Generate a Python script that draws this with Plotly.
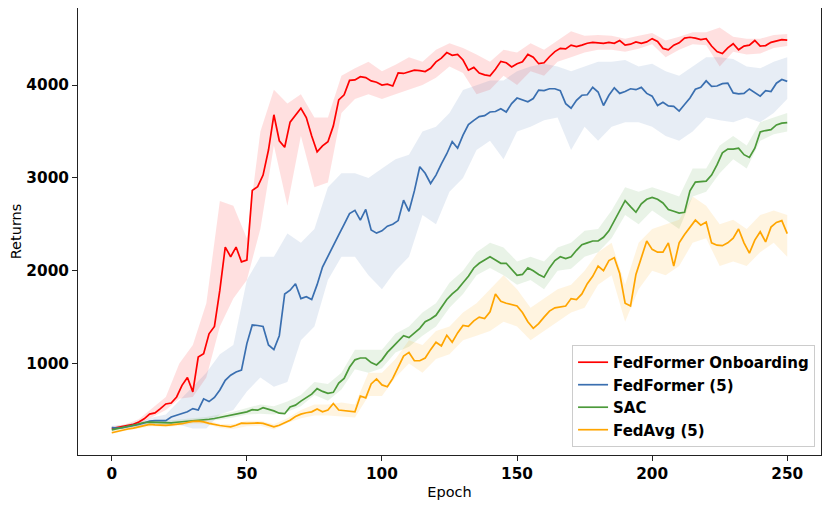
import plotly.graph_objects as go

EPOCHS = list(range(0, 251, 2))
BAND_EPOCHS = list(range(0, 251, 5))

SERIES_NAMES = ["FedFormer Onboarding", "FedFormer (5)", "SAC", "FedAvg (5)"]

onboarding_mean = [300, 310, 320, 335, 345, 370, 405, 455, 468, 515, 565, 575, 640, 765, 850, 695,
    1070, 1105, 1320, 1400, 1790, 2255, 2150, 2255, 2095, 2115, 2865, 2905, 3030, 3300, 3680,
    3400, 3330, 3600, 3680, 3750, 3650, 3450, 3280, 3345, 3390, 3560, 3840, 3895, 4050, 4055,
    4090, 4080, 4045, 4030, 4000, 4010, 3990, 4130, 4125, 4140, 4160, 4155, 4145, 4180, 4250,
    4290, 4350, 4320, 4330, 4270, 4160, 4190, 4130, 4110, 4100, 4170, 4255, 4240, 4195, 4230,
    4250, 4330, 4300, 4230, 4240, 4305, 4360, 4395, 4390, 4430, 4415, 4430, 4450, 4460, 4455,
    4450, 4460, 4450, 4480, 4430, 4440, 4465, 4450, 4465, 4500, 4470, 4395, 4380, 4430, 4455,
    4505, 4515, 4505, 4490, 4500, 4420, 4360, 4340, 4400, 4445, 4380, 4420, 4430, 4480, 4420,
    4425, 4460, 4475, 4490, 4485]
onboarding_low = [285, 305, 345, 420, 500, 620, 640, 850, 1400, 1700, 1900, 2450, 3350, 2700,
    3450, 2900, 2950, 3700, 3850, 3900, 3850, 3900, 3950, 4000, 4080, 4200, 4130, 3900, 3950,
    4100, 4000, 4150, 4100, 4250, 4300, 4350, 4380, 4380, 4360, 4390, 4440, 4300, 4380, 4440,
    4430, 4200, 4360, 4330, 4340, 4400, 4420]
onboarding_high = [320, 345, 400, 520, 640, 1000, 1200, 1650, 2750, 2700, 2350, 3500, 3950, 3800,
    3900, 3650, 3650, 4100, 4180, 4250, 4150, 4220, 4300, 4250, 4380, 4450, 4400, 4330, 4250,
    4380, 4350, 4450, 4380, 4480, 4580, 4530, 4540, 4530, 4500, 4530, 4560, 4480, 4520, 4570,
    4570, 4620, 4520, 4500, 4500, 4540, 4550]

fedformer_mean = [310, 305, 310, 320, 330, 345, 360, 380, 385, 385, 385, 425, 445, 460, 480, 515,
    500, 620, 590, 635, 715, 820, 875, 910, 930, 1215, 1415, 1410, 1400, 1200, 1150, 1300, 1750,
    1790, 1860, 1700, 1720, 1690, 1850, 2040, 2150, 2270, 2385, 2500, 2615, 2650, 2545, 2660,
    2440, 2405, 2430, 2480, 2500, 2540, 2760, 2640, 2860, 3120, 3050, 2940, 3030, 3150, 3260,
    3390, 3320, 3460, 3575, 3620, 3660, 3670, 3710, 3715, 3745, 3710, 3800, 3860, 3840, 3820,
    3855, 3945, 3940, 3960, 3960, 3940, 3800, 3750, 3835, 3890, 3895, 3975, 3925, 3780, 3890,
    3970, 3910, 3930, 3960, 3950, 3975, 3910, 3880, 3780, 3815, 3775, 3770, 3720, 3790, 3860,
    3955, 3975, 4045, 3985, 3990, 4015, 4020, 3915, 3905, 3910, 3958, 3920, 3880, 3940, 3930,
    4020, 4060, 4040]
fedformer_low = [290, 300, 320, 340, 330, 340, 300, 300, 450, 500, 700, 850, 750, 800, 1250,
    1400, 1900, 2150, 2150, 1950, 1800, 2000, 2150, 2600, 2500, 2850, 3000, 3300, 3400, 3200,
    3500, 3550, 3620, 3650, 3300, 3550, 3400, 3550, 3600, 3600, 3550, 3450, 3400, 3500, 3650,
    3620, 3600, 3650, 3600, 3700, 3850]
fedformer_high = [330, 340, 370, 420, 450, 600, 750, 900, 1100, 1200, 1900, 2150, 2150, 2400,
    2300, 2450, 2900, 3050, 3050, 3000, 3100, 3200, 3250, 3500, 3550, 3700, 3946, 4000, 4050,
    4050, 4150, 4200, 4230, 4200, 4150, 4200, 4250, 4250, 4270, 4200, 4230, 4150, 4100, 4200,
    4300, 4300, 4280, 4200, 4180, 4250, 4300]

sac_mean = [285, 300, 315, 325, 335, 350, 365, 370, 368, 362, 360, 362, 368, 372, 378, 385, 390,
    395, 400, 408, 420, 430, 440, 455, 468, 480, 503, 498, 525, 510, 490, 465, 460, 533, 552,
    595, 630, 670, 730, 700, 680, 690, 790, 840, 960, 1040, 1060, 1060, 1010, 985, 1040, 1120,
    1180, 1240, 1300, 1280, 1330, 1380, 1450, 1480, 1520, 1610, 1690, 1750, 1800, 1870, 1940,
    2030, 2080, 2115, 2150, 2115, 2080, 2080, 2010, 1950, 1960, 2030, 2000, 1960, 1930, 2030,
    2110, 2150, 2130, 2150, 2220, 2280, 2300, 2320, 2320, 2360, 2430, 2540, 2640, 2755, 2690,
    2630, 2720, 2770, 2790, 2770, 2730, 2660, 2640, 2620, 2630, 2860, 2955, 2960, 2965, 3030,
    3140, 3270, 3310, 3310, 3320, 3250, 3220, 3320, 3495, 3510, 3520, 3570, 3590, 3595]
sac_low = [270, 300, 330, 345, 340, 350, 365, 380, 395, 420, 450, 460, 450, 480, 540, 660, 600,
    720, 940, 900, 950, 1120, 1180, 1300, 1400, 1600, 1750, 1950, 2030, 1950, 1850, 1900, 1800,
    2000, 2020, 2150, 2200, 2350, 2600, 2500, 2650, 2550, 2450, 2800, 2850, 3050, 3200, 3100,
    3400, 3470, 3500]
sac_high = [300, 340, 370, 385, 385, 395, 410, 425, 450, 480, 520, 560, 540, 590, 660, 800, 780,
    900, 1150, 1150, 1150, 1320, 1400, 1550, 1650, 1870, 2000, 2200, 2300, 2250, 2100, 2150, 2100,
    2250, 2300, 2430, 2450, 2650, 2900, 2850, 2900, 2850, 2800, 3100, 3100, 3350, 3450, 3350,
    3600, 3650, 3700]

fedavg_mean = [255, 270, 285, 295, 305, 320, 335, 345, 340, 337, 335, 340, 345, 352, 365, 378,
    380, 372, 355, 340, 333, 325, 318, 335, 358, 355, 358, 360, 355, 335, 318, 335, 365, 390,
    430, 455, 470, 480, 510, 480, 500, 570, 500, 495, 485, 480, 650, 630, 780, 835, 770, 750,
    840, 965, 1080, 1120, 1030, 1030, 1060, 1150, 1230, 1190, 1305, 1230, 1330, 1410, 1400, 1460,
    1500, 1485, 1557, 1750, 1670, 1650, 1635, 1620, 1550, 1450, 1380, 1430, 1500, 1565, 1600,
    1610, 1620, 1700, 1690, 1750, 1860, 1940, 2050, 2000, 2110, 2140, 1970, 1650, 1620, 1960,
    2130, 2320, 2230, 2200, 2200, 2300, 2050, 2300, 2390, 2470, 2545, 2490, 2525, 2300, 2275,
    2270, 2300, 2350, 2450, 2300, 2190, 2330, 2420, 2310, 2470, 2520, 2540, 2400]
fedavg_low = [240, 275, 300, 325, 315, 330, 355, 350, 305, 295, 325, 330, 290, 360, 410, 440,
    440, 430, 420, 650, 650, 850, 1000, 900, 1050, 1100, 1250, 1300, 1350, 1450, 1400, 1250,
    1350, 1450, 1550, 1600, 1850, 1950, 1450, 1800, 2000, 1950, 2050, 2300, 2350, 2050, 2100,
    2050, 2200, 2300, 2150]
fedavg_high = [270, 315, 340, 360, 360, 375, 400, 395, 350, 350, 385, 385, 345, 410, 500, 560,
    560, 580, 560, 900, 900, 1050, 1250, 1200, 1350, 1400, 1550, 1650, 1800, 1950, 1800, 1600,
    1700, 1800, 1850, 2000, 2200, 2300, 1850, 2300, 2450, 2500, 2550, 2800, 2700, 2500, 2550,
    2450, 2600, 2650, 2600]

COLORS = ["#ff0000", "#3a6fb0", "#4c9a3a", "#ffa500"]
FILLS = ["rgba(255,0,0,0.12)", "rgba(58,111,176,0.12)", "rgba(76,154,58,0.12)",
         "rgba(255,165,0,0.12)"]

means = [onboarding_mean, fedformer_mean, sac_mean, fedavg_mean]
lows = [onboarding_low, fedformer_low, sac_low, fedavg_low]
highs = [onboarding_high, fedformer_high, sac_high, fedavg_high]

fig = go.Figure()
for name, m, lo, hi, c, f in zip(SERIES_NAMES, means, lows, highs, COLORS, FILLS):
    fig.add_trace(go.Scatter(x=BAND_EPOCHS, y=lo, mode="lines", line=dict(width=0),
                             showlegend=False, hoverinfo="skip"))
    fig.add_trace(go.Scatter(x=BAND_EPOCHS, y=hi, mode="lines", line=dict(width=0),
                             fill="tonexty", fillcolor=f, showlegend=False, hoverinfo="skip"))
for name, m, c in zip(SERIES_NAMES, means, COLORS):
    fig.add_trace(go.Scatter(x=EPOCHS, y=m, mode="lines", name=name,
                             line=dict(color=c, width=1.7)))

tickfont = dict(family="DejaVu Sans", size=15.3, color="black", weight="bold")
axis_common = dict(showgrid=False, zeroline=False, showline=True, linecolor="#222",
                   linewidth=1, mirror=True, ticks="outside", ticklen=5, tickwidth=1,
                   tickcolor="#222", tickfont=tickfont)

# the page body adds an 8px offset; figure size and margins compensate for it
fig.update_layout(
    width=822, height=498,
    margin=dict(l=70, r=9, t=0, b=51),
    plot_bgcolor="white", paper_bgcolor="white",
    xaxis=dict(range=[-12.5, 262.5], tickvals=[0, 50, 100, 150, 200, 250],
               title=dict(text="Epoch", font=dict(family="DejaVu Sans", size=14.5, color="black"),
                          standoff=4),
               **axis_common),
    yaxis=dict(range=[15, 4830], tickvals=[1000, 2000, 3000, 4000],
               title=dict(text="Returns", font=dict(family="DejaVu Sans", size=14.5, color="black"),
                          standoff=8),
               **axis_common),
    legend=dict(x=0.992, y=0.018, xanchor="right", yanchor="bottom", traceorder="normal",
                bgcolor="rgba(255,255,255,0.85)", bordercolor="#cccccc", borderwidth=1,
                font=dict(family="DejaVu Sans", size=15, color="black", weight="bold"),
                tracegroupgap=0, itemwidth=30),
    showlegend=True,
)

fig.write_html("out.html")
